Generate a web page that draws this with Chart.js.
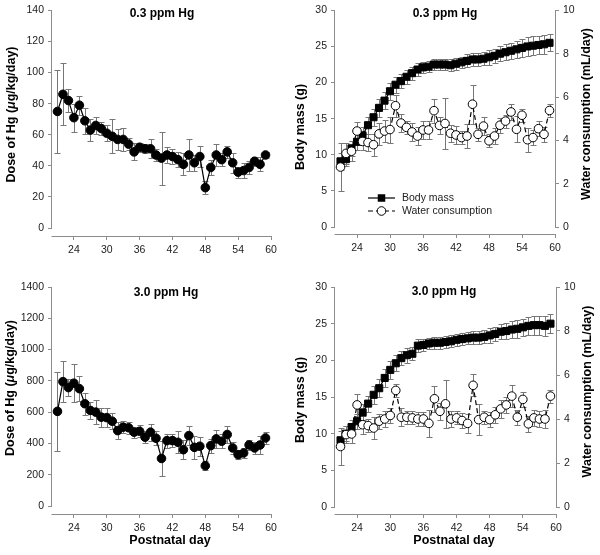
<!DOCTYPE html>
<html><head><meta charset="utf-8">
<script src="https://cdn.jsdelivr.net/npm/chart.js@4.4.1/dist/chart.umd.min.js"></script>
<style>
html,body{margin:0;padding:0;background:#fff;}
#wrap{position:relative;width:600px;height:555px;overflow:hidden;}
canvas{position:absolute;}
</style></head><body>
<div id="wrap">
<canvas id="c1" width="285" height="262" style="left:0;top:0;width:285px;height:262px"></canvas>
<canvas id="c2" width="315" height="262" style="left:285px;top:0;width:315px;height:262px"></canvas>
<canvas id="c3" width="285" height="293" style="left:0;top:262px;width:285px;height:293px"></canvas>
<canvas id="c4" width="315" height="293" style="left:285px;top:262px;width:315px;height:293px"></canvas>
</div>
<script>
// ---------- data ----------
const days = [21,22,23,24,25,26,27,28,29,30,31,32,33,34,35,36,37,38,39,40,41,42,43,44,45,46,47,48,49,50,51,52,53,54,55,56,57,58,59];
const xTickValues = [24,30,36,42,48,54,60];
const doseTicks03 = [0,20,40,60,80,100,120,140];
const doseTicks30 = [0,200,400,600,800,1000,1200,1400];
const massTicks = [0,5,10,15,20,25,30];
const waterTicks = [0,2,4,6,8,10];

const dose03 = [75,86,82,71,79,69,63,66,64,61,59,57,57,54,49,52,51,51,47,45,47,46,44,41,47,42,46,26,39,47,44,49,42,36,37,39,43,41,47];
const dose03Err = [26.5,20,7.5,9,6,8.5,7,5.5,4,5,11,6.5,7.5,4,5.5,3,3,6,4,17,5,5,5,7,10,5,6.5,4,5,7,4,4,6.5,3.5,5,4,3,4.5,2];
const dose30 = [605,795,757,785,750,654,611,600,568,565,542,482,504,500,472,478,440,472,433,304,418,418,407,360,450,375,382,257,386,429,414,457,371,328,339,390,371,390,435];
const dose30Err = [254,130,55,120,80,70,55,75,60,60,50,55,40,40,35,40,40,55,45,110,45,40,70,60,60,75,60,30,45,60,45,55,40,30,30,30,40,60,40];

const mass03 = [9.1,9.4,10.9,11.8,12.7,14.1,15.2,16.5,17.5,18.8,19.7,20.2,20.8,21.3,21.8,22.1,22.2,22.5,22.5,22.5,22.4,22.6,22.8,23.0,23.2,23.2,23.3,23.5,23.7,24.0,24.2,24.4,24.6,24.8,25.0,25.1,25.2,25.3,25.5];
const mass03Err = [1.2,1.0,1.0,1.1,1.1,1.2,1.2,1.2,1.2,1.2,1.1,1.0,1.0,0.9,0.9,0.8,0.8,0.8,0.8,0.8,0.8,0.8,0.8,0.9,0.9,0.9,0.9,1.0,1.0,1.0,1.1,1.1,1.2,1.2,1.3,1.3,1.3,1.3,1.2];
const water03 = [2.77,3.4,3.5,4.43,3.95,3.9,3.8,4.3,4.43,4.5,5.6,4.8,4.6,4.39,4.2,4.48,4.48,5.37,4.69,4.78,4.33,4.25,4.13,4.2,5.67,4.28,4.66,3.98,4.2,4.7,4.89,5.31,4.51,5.16,4.03,4.13,4.54,4.28,5.38];
const water03Err = [1.1,0.5,0.45,0.4,0.4,0.4,0.5,0.5,0.5,0.6,0.5,0.4,0.3,0.4,0.4,0.4,0.4,0.55,0.4,1.17,0.4,0.4,0.3,0.55,0.9,0.3,0.4,0.3,0.35,0.35,0.3,0.35,0.6,0.3,0.55,0.35,0.35,0.35,0.3];

const mass30 = [9.1,10.0,10.9,11.7,12.9,14.1,15.3,16.2,17.6,18.7,19.6,20.3,20.7,20.9,22.0,22.1,22.3,22.4,22.4,22.5,22.6,22.8,22.9,23.0,23.1,23.1,23.2,23.4,23.6,23.9,24.0,24.2,24.3,24.5,24.7,24.8,24.8,24.7,25.0];
const mass30Err = [1.2,1.0,1.0,1.0,1.1,1.1,1.2,1.2,1.2,1.2,1.1,1.0,1.0,0.9,0.9,0.8,0.8,0.8,0.8,0.8,0.8,0.8,0.8,0.8,0.9,0.9,0.9,1.0,1.0,1.0,1.1,1.1,1.2,1.2,1.2,1.3,1.3,1.4,1.3];
const water30 = [2.75,3.29,3.32,4.64,3.74,3.70,3.59,3.9,4.0,4.16,5.3,4.08,4.08,4.05,4.0,4.0,3.8,4.92,4.35,4.69,4.0,4.05,3.93,3.8,5.53,3.97,4.08,3.97,4.19,4.46,4.64,5.04,4.08,4.89,3.78,4.05,4.0,4.0,5.04];
const water30Err = [0.85,0.4,0.4,0.5,0.4,0.3,0.5,0.35,0.35,0.35,0.3,0.4,0.3,0.3,0.3,0.3,0.6,0.6,0.4,1.1,0.35,0.3,0.35,0.45,0.5,0.7,0.3,0.35,0.35,0.4,0.35,0.5,0.35,0.35,0.35,0.35,0.35,0.4,0.3];

// ---------- style ----------
const FONT = 'Arial, "Liberation Sans", Helvetica, sans-serif';
const AXIS = '#8c8c8c';
const ERR = '#777777';
const TICKCOL = '#222222';

const pts = (vals) => days.map((d, i) => ({x: d, y: vals[i]}));

const errorBarPlugin = {
  id: 'errorBars',
  beforeDatasetsDraw(chart) {
    const ctx = chart.ctx;
    chart.data.datasets.forEach((ds, di) => {
      if (!ds.errors) return;
      const meta = chart.getDatasetMeta(di);
      const ys = chart.scales[meta.yAxisID];
      ctx.save();
      ctx.strokeStyle = ERR;
      ctx.lineWidth = 1;
      ctx.beginPath();
      meta.data.forEach((pt, i) => {
        const v = ds.data[i].y, e = ds.errors[i];
        const yt = Math.round(ys.getPixelForValue(v + e)) + 0.5;
        const yb = Math.round(ys.getPixelForValue(v - e)) + 0.5;
        const x = Math.round(pt.x) + 0.5;
        ctx.moveTo(x, yt); ctx.lineTo(x, yb);
        ctx.moveTo(x - 3, yt); ctx.lineTo(x + 3, yt);
        ctx.moveTo(x - 3, yb); ctx.lineTo(x + 3, yb);
      });
      ctx.stroke();
      ctx.restore();
    });
  }
};

const axisPlugin = {
  id: 'axisLines',
  beforeDatasetsDraw(chart) {
    const {ctx, chartArea, scales} = chart;
    ctx.save();
    ctx.strokeStyle = AXIS;
    ctx.lineWidth = 1;
    ctx.beginPath();
    const yb = Math.round(chartArea.bottom) + 0.5;
    ctx.moveTo(chartArea.left - 0.5, yb); ctx.lineTo(chartArea.right + 0.5, yb);
    ['y', 'y2'].forEach(id => {
      const s = scales[id];
      if (!s) return;
      const x = id === 'y' ? Math.round(chartArea.left) - 0.5 : Math.round(chartArea.right) + 0.5;
      ctx.moveTo(x, s.getPixelForValue(0) + 0.5);
      ctx.lineTo(x, s.getPixelForValue(s.max));
    });
    ctx.stroke();
    ctx.restore();
  }
};

function drawRich(ctx, it) {
  ctx.save();
  ctx.translate(it.x, it.y);
  if (it.rot) ctx.rotate(it.rot);
  ctx.fillStyle = it.color || '#000';
  ctx.textBaseline = 'middle';
  ctx.textAlign = 'left';
  let total = 0;
  const widths = it.parts.map(p => {
    ctx.font = p.style + ' ' + it.size + 'px ' + FONT;
    const w = ctx.measureText(p.t).width;
    total += w;
    return w;
  });
  let cx = -total / 2;
  it.parts.forEach((p, i) => {
    ctx.font = p.style + ' ' + it.size + 'px ' + FONT;
    ctx.fillText(p.t, cx, 0);
    cx += widths[i];
  });
  ctx.restore();
}

function drawLegend(ctx, lg) {
  ctx.save();
  ctx.strokeStyle = '#000';
  ctx.lineWidth = 1.2;
  const mid = (lg.x1 + lg.x2) / 2;
  ctx.beginPath(); ctx.moveTo(lg.x1, lg.y1); ctx.lineTo(lg.x2, lg.y1); ctx.stroke();
  ctx.fillStyle = '#000';
  ctx.fillRect(mid - 3.75, lg.y1 - 3.75, 7.5, 7.5);
  ctx.setLineDash([5, 3]);
  ctx.beginPath(); ctx.moveTo(lg.x1, lg.y2); ctx.lineTo(lg.x2, lg.y2); ctx.stroke();
  ctx.setLineDash([]);
  ctx.beginPath(); ctx.arc(mid, lg.y2, 4.3, 0, Math.PI * 2);
  ctx.fillStyle = '#fff'; ctx.fill(); ctx.lineWidth = 1; ctx.stroke();
  ctx.fillStyle = TICKCOL;
  ctx.font = '10.5px ' + FONT;
  ctx.textBaseline = 'middle';
  ctx.fillText(lg.t1, lg.tx, lg.y1);
  ctx.fillText(lg.t2, lg.tx, lg.y2);
  ctx.restore();
}

function textPlugin(items, legend) {
  return {
    id: 'panelText',
    afterDraw(chart) {
      items.forEach(it => drawRich(chart.ctx, it));
      if (legend) drawLegend(chart.ctx, legend);
    }
  };
}

function tickFmt() {
  return {font: {family: FONT, size: 10.5}, color: TICKCOL, padding: 4, autoSkip: false, maxRotation: 0, minRotation: 0,
    callback: v => String(v)};
}
function gridFmt() {
  return {display: true, drawOnChartArea: false, drawTicks: true, tickLength: 4, color: AXIS, lineWidth: 1};
}

function yScale(pos, max, ticks, L, width) {
  const min = -max * L.gap / (L.axisY - L.top - L.gap);
  return {
    type: 'linear', position: pos, min: min, max: max,
    afterBuildTicks: s => { s.ticks = ticks.map(v => ({value: v})); },
    afterFit: s => { s.width = width; },
    grid: gridFmt(), border: {display: false}, ticks: tickFmt()
  };
}

function makePanel(id, L, datasets, yLeft, yRight, items, legend) {
  const cv = document.getElementById(id);
  const W = cv.width, H = cv.height;
  const scales = {
    x: {
      type: 'linear', min: 20, max: 60,
      afterBuildTicks: s => { s.ticks = xTickValues.map(v => ({value: v})); },
      afterFit: s => { s.height = H - L.axisY; },
      grid: gridFmt(), border: {display: false}, ticks: tickFmt()
    },
    y: yScale('left', yLeft.max, yLeft.ticks, L, L.left)
  };
  if (yRight) scales.y2 = yScale('right', yRight.max, yRight.ticks, L, W - L.right);
  new Chart(cv, {
    type: 'line',
    data: {datasets: datasets},
    options: {
      responsive: false, animation: false, devicePixelRatio: 1, events: [],
      layout: {padding: {left: 0, top: L.top, bottom: 0, right: yRight ? 0 : W - L.right}},
      plugins: {legend: {display: false}, tooltip: {enabled: false}, title: {display: false}},
      scales: scales
    },
    plugins: [axisPlugin, errorBarPlugin, textPlugin(items, legend)]
  });
}

function doseSet(vals, errs) {
  return {data: pts(vals), errors: errs, yAxisID: 'y', borderColor: '#000', borderWidth: 1.2,
    pointRadius: 4.3, pointBackgroundColor: '#000', pointBorderColor: '#000', pointBorderWidth: 1, tension: 0, fill: false};
}
function waterSet(vals, errs) {
  return {data: pts(vals), errors: errs, yAxisID: 'y2', borderColor: '#000', borderWidth: 1.2, borderDash: [5, 3],
    pointStyle: 'circle', pointRadius: 4.3, pointBackgroundColor: '#fff', pointBorderColor: '#000', pointBorderWidth: 1, tension: 0, fill: false};
}
function massSet(vals, errs) {
  return {data: pts(vals), errors: errs, yAxisID: 'y', borderColor: '#000', borderWidth: 1.2,
    pointStyle: 'rect', pointRadius: 5, pointBackgroundColor: '#000', pointBorderColor: '#000', pointBorderWidth: 1, tension: 0, fill: false};
}

const B = 'bold', BI = 'italic bold';
const doseTitle = [{t: 'Dose of Hg (', style: B}, {t: 'μ', style: BI}, {t: 'g/kg/day)', style: B}];
const massTitle = [{t: 'Body mass (g)', style: B}];
const waterTitle = [{t: 'Water consumption (mL/day)', style: B}];
const R = -Math.PI / 2;

// top-left
makePanel('c1', {left: 52, right: 271, top: 7, axisY: 236, gap: 8},
  [doseSet(dose03, dose03Err)],
  {max: 140, ticks: doseTicks03}, null,
  [{parts: [{t: '0.3 ppm Hg', style: B}], x: 162, y: 14, size: 12},
   {parts: doseTitle, x: 12, y: 114.5, rot: R, size: 12.5}]);

// top-right
makePanel('c2', {left: 50, right: 270, top: 7, axisY: 234, gap: 7},
  [waterSet(water03, water03Err), massSet(mass03, mass03Err)],
  {max: 30, ticks: massTicks}, {max: 10, ticks: waterTicks},
  [{parts: [{t: '0.3 ppm Hg', style: B}], x: 160, y: 14, size: 12},
   {parts: massTitle, x: 16, y: 127, rot: R, size: 12.5},
   {parts: waterTitle, x: 302, y: 114, rot: R, size: 12.5}],
  {x1: 83, x2: 110, tx: 117, y1: 198, y2: 211, t1: 'Body mass', t2: 'Water consumption'});

// bottom-left
makePanel('c3', {left: 52, right: 271, top: 25, axisY: 252, gap: 8},
  [doseSet(dose30, dose30Err)],
  {max: 1400, ticks: doseTicks30}, null,
  [{parts: [{t: '3.0 ppm Hg', style: B}], x: 166, y: 31, size: 12},
   {parts: doseTitle, x: 11, y: 126, rot: R, size: 12.5},
   {parts: [{t: 'Postnatal day', style: B}], x: 170, y: 279, size: 12.5}]);

// bottom-right
makePanel('c4', {left: 50, right: 271, top: 25, axisY: 252, gap: 7},
  [waterSet(water30, water30Err), massSet(mass30, mass30Err)],
  {max: 30, ticks: massTicks}, {max: 10, ticks: waterTicks},
  [{parts: [{t: '3.0 ppm Hg', style: B}], x: 159, y: 30, size: 12},
   {parts: massTitle, x: 16, y: 138, rot: R, size: 12.5},
   {parts: waterTitle, x: 303, y: 129.5, rot: R, size: 12.5},
   {parts: [{t: 'Postnatal day', style: B}], x: 169, y: 279, size: 12.5}]);
</script>
</body></html>
